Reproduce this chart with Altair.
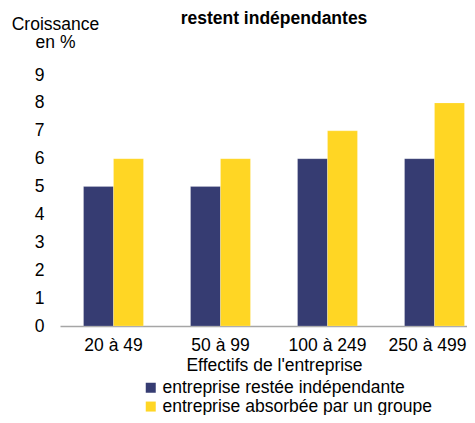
import altair as alt
import pandas as pd

categories = ["20 à 49", "50 à 99", "100 à 249", "250 à 499"]
series = ["entreprise restée indépendante", "entreprise absorbée par un groupe"]
independante = [5, 5, 6, 6]
absorbee = [6, 6, 7, 8]
colors = ["#363C72", "#FFD624"]
y_ticks = list(range(0, 10))
title_lines = ["absorption, selon qu'elles sont absorbées ou", "restent indépendantes"]

rows = []
for c, v in zip(categories, independante):
    rows.append({"cat": c, "serie": series[0], "val": v})
for c, v in zip(categories, absorbee):
    rows.append({"cat": c, "serie": series[1], "val": v})
df = pd.DataFrame(rows)

FONT = "Liberation Sans"
FS = 17.5

chart = alt.Chart(df).mark_bar(stroke="#ffffff", strokeWidth=0.4, strokeOpacity=0.5).encode(
    x=alt.X("cat:N", sort=categories,
            scale=alt.Scale(paddingInner=0.44, paddingOuter=0.22, range=[0, 428]),
            axis=alt.Axis(title="Effectifs de l'entreprise", labelAngle=0, ticks=False,
                          domainColor="#a6a6a6", domainWidth=1.5,
                          labelPadding=10.5, titlePadding=2.5,
                          labelOffset={"condition": {"test": f"datum.value == '{categories[-1]}'",
                                                     "value": -7},
                                       "value": 0},
                          labelFont=FONT, labelFontSize=FS, labelColor="#000000",
                          titleFont=FONT, titleFontSize=FS, titleFontWeight="normal",
                          titleColor="#000000")),
    xOffset=alt.XOffset("serie:N", sort=series,
                        scale=alt.Scale(paddingInner=0, paddingOuter=0)),
    y=alt.Y("val:Q", scale=alt.Scale(domain=[0, 9], nice=False),
            axis=alt.Axis(values=y_ticks, grid=False, domain=False, ticks=False,
                          labelPadding=16, labelFont=FONT, labelFontSize=FS,
                          labelColor="#000000",
                          title=["Croissance", "en %"], titleAngle=0, titleAlign="center",
                          titleBaseline="alphabetic", titleX=-5, titleY=-46,
                          titleLineHeight=18, titleFont=FONT, titleFontSize=FS,
                          titleFontWeight="normal", titleColor="#000000")),
    color=alt.Color("serie:N", sort=series,
                    scale=alt.Scale(domain=series, range=colors),
                    legend=alt.Legend(title=None, orient="none", legendX=82, legendY=304,
                                      direction="vertical", symbolType="square",
                                      symbolSize=100, symbolStrokeWidth=0,
                                      labelFont=FONT, labelFontSize=FS, labelLimit=0,
                                      labelColor="#000000", labelOffset=3,
                                      rowPadding=-0.2, padding=0)),
).properties(
    width=407,
    height=251,
    title=alt.TitleParams(text=title_lines, font=FONT, fontSize=FS, fontWeight="bold",
                          color="#000000", anchor="middle", offset=0, lineHeight=20,
                          dx=10.5, dy=12),
    autosize=alt.AutoSizeParams(type="none"),
    padding={"left": 52, "top": 67, "right": 0, "bottom": 89},
).configure_view(stroke=None)

chart.save("out.html", embed_options={"renderer": "svg", "actions": False})
